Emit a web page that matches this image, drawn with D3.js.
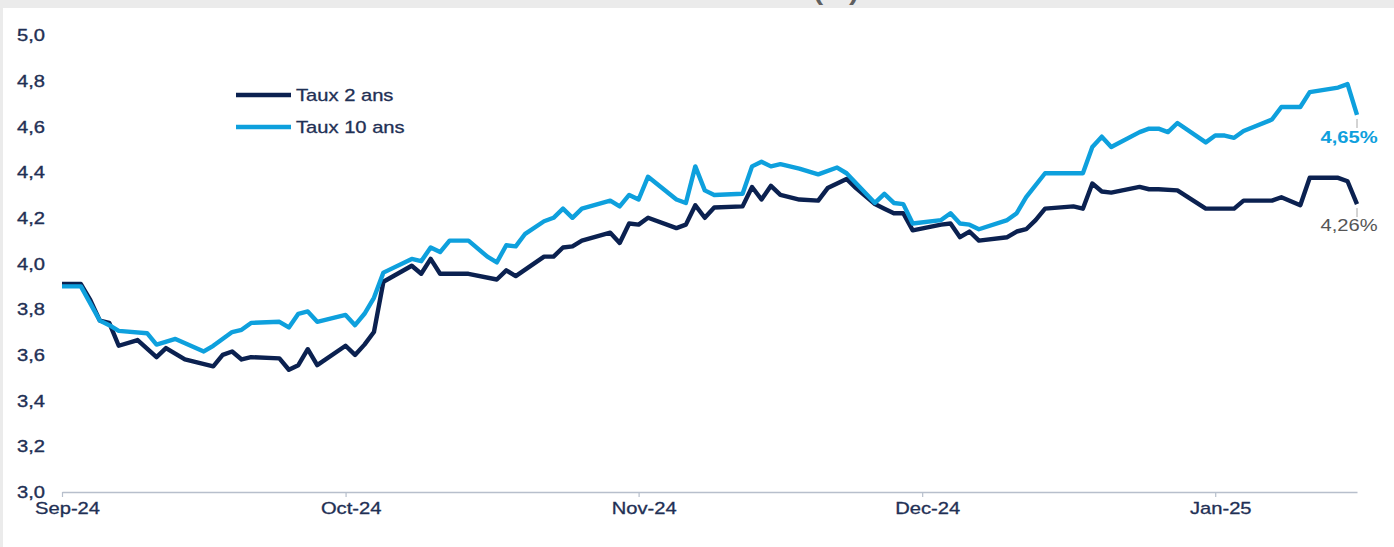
<!DOCTYPE html>
<html>
<head>
<meta charset="utf-8">
<script src="https://cdn.jsdelivr.net/npm/d3@7"></script>
<style>
  html, body { margin: 0; padding: 0; background: #ffffff; }
  svg { display: block; }
  text { font-family: "Liberation Sans", Arial, sans-serif; }
</style>
</head>
<body>
<svg id="chart" width="1394" height="547"></svg>
<script>
// ---------- DATA ----------
const seriesNames = ["Taux 2 ans", "Taux 10 ans"];

const dates2 = [
  "2024-09-01","2024-09-03","2024-09-04","2024-09-05","2024-09-06","2024-09-07","2024-09-09","2024-09-11","2024-09-12","2024-09-14",
  "2024-09-17","2024-09-18","2024-09-19","2024-09-20","2024-09-21","2024-09-24","2024-09-25","2024-09-26","2024-09-27","2024-09-28",
  "2024-10-01","2024-10-02","2024-10-03","2024-10-04","2024-10-05","2024-10-08","2024-10-09","2024-10-10","2024-10-11","2024-10-14",
  "2024-10-17","2024-10-18","2024-10-19","2024-10-22","2024-10-23","2024-10-24","2024-10-25","2024-10-26","2024-10-29","2024-10-30","2024-10-31",
  "2024-11-01","2024-11-02","2024-11-05","2024-11-06","2024-11-07","2024-11-08","2024-11-09","2024-11-12","2024-11-13","2024-11-14",
  "2024-11-15","2024-11-16","2024-11-18","2024-11-20","2024-11-21","2024-11-23","2024-11-24","2024-11-26","2024-11-27","2024-11-28","2024-11-29","2024-11-30",
  "2024-12-03","2024-12-04","2024-12-05","2024-12-06","2024-12-07","2024-12-10","2024-12-11","2024-12-12","2024-12-13","2024-12-14",
  "2024-12-17","2024-12-18","2024-12-19","2024-12-20","2024-12-21","2024-12-24","2024-12-25","2024-12-26","2024-12-28","2024-12-31",
  "2025-01-03","2025-01-04","2025-01-07","2025-01-08","2025-01-10","2025-01-11","2025-01-14","2025-01-15","2025-01-16"
];
const values2 = [
  3.91,3.91,3.84,3.75,3.74,3.64,3.665,3.59,3.63,3.58,
  3.55,3.60,3.615,3.58,3.59,3.585,3.535,3.555,3.625,3.555,
  3.64,3.60,3.645,3.70,3.92,3.99,3.955,4.02,3.955,3.955,
  3.93,3.97,3.945,4.03,4.03,4.07,4.075,4.10,4.135,4.09,4.175,
  4.17,4.20,4.155,4.17,4.255,4.20,4.245,4.25,4.335,4.28,
  4.34,4.30,4.28,4.275,4.33,4.37,4.33,4.26,4.24,4.22,4.22,4.145,
  4.17,4.175,4.115,4.14,4.10,4.115,4.14,4.15,4.19,4.24,
  4.25,4.24,4.35,4.315,4.31,4.335,4.325,4.325,4.32,4.24,
  4.24,4.275,4.275,4.29,4.255,4.375,4.375,4.36,4.26
];

const dates10 = [
  "2024-09-01","2024-09-03","2024-09-05","2024-09-06","2024-09-07","2024-09-10","2024-09-11","2024-09-13","2024-09-16","2024-09-17",
  "2024-09-19","2024-09-20","2024-09-21","2024-09-24","2024-09-25","2024-09-26","2024-09-27","2024-09-28",
  "2024-10-01","2024-10-02","2024-10-03","2024-10-04","2024-10-05","2024-10-08","2024-10-09","2024-10-10","2024-10-11","2024-10-12",
  "2024-10-14","2024-10-16","2024-10-17","2024-10-18","2024-10-19","2024-10-20","2024-10-22","2024-10-23","2024-10-24","2024-10-25",
  "2024-10-26","2024-10-29","2024-10-30","2024-10-31",
  "2024-11-01","2024-11-02","2024-11-05","2024-11-06","2024-11-07","2024-11-08","2024-11-09","2024-11-12","2024-11-13","2024-11-14",
  "2024-11-15","2024-11-16","2024-11-18","2024-11-20","2024-11-22","2024-11-23","2024-11-26","2024-11-27","2024-11-28","2024-11-29","2024-11-30",
  "2024-12-03","2024-12-04","2024-12-05","2024-12-06","2024-12-07","2024-12-10","2024-12-11","2024-12-12","2024-12-14","2024-12-18",
  "2024-12-19","2024-12-20","2024-12-21","2024-12-24","2024-12-25","2024-12-26","2024-12-27","2024-12-28","2024-12-31",
  "2025-01-01","2025-01-02","2025-01-03","2025-01-04","2025-01-07","2025-01-08","2025-01-10","2025-01-11","2025-01-14","2025-01-15","2025-01-16"
];
const values10 = [
  3.90,3.90,3.75,3.73,3.705,3.695,3.645,3.67,3.615,3.64,
  3.70,3.71,3.74,3.745,3.72,3.78,3.79,3.745,
  3.775,3.73,3.78,3.85,3.96,4.02,4.01,4.07,4.05,4.10,
  4.10,4.03,4.005,4.08,4.075,4.13,4.185,4.20,4.24,4.20,
  4.24,4.275,4.25,4.30,
  4.28,4.38,4.28,4.265,4.425,4.32,4.30,4.305,4.425,4.445,
  4.425,4.435,4.415,4.39,4.42,4.395,4.265,4.305,4.265,4.26,4.175,
  4.19,4.22,4.175,4.17,4.15,4.19,4.22,4.29,4.395,4.395,
  4.51,4.555,4.51,4.575,4.59,4.59,4.575,4.615,4.53,
  4.56,4.56,4.55,4.58,4.63,4.685,4.685,4.75,4.77,4.785,4.65
];

const yTickValues = [3.0, 3.2, 3.4, 3.6, 3.8, 4.0, 4.2, 4.4, 4.6, 4.8, 5.0];
const xTickDates = ["2024-09-01","2024-10-01","2024-11-01","2024-12-01","2025-01-01"];
const xTickLabels = ["Sep-24","Oct-24","Nov-24","Dec-24","Jan-25"];
const xDomain = ["2024-09-01","2025-01-16"];
const endLabels = ["4,26%", "4,65%"];

// ---------- CHART ----------
const parse = d3.utcParse("%Y-%m-%d");
const svg = d3.select("#chart");

const colDark = "#0b2150";
const colLight = "#0ea0dd";
const textCol = "#1f3055";
const SX = 1.26;   // horizontal stretch of the original picture's text

// frame background
svg.append("rect").attr("x",0).attr("y",0).attr("width",1394).attr("height",8).attr("fill","#ebebeb");
svg.append("rect").attr("x",0).attr("y",0).attr("width",3).attr("height",547).attr("fill","#ebebeb");
svg.append("text").attr("transform",`translate(836,-0.5) scale(${SX},1)`).attr("text-anchor","middle")
  .attr("font-size",23).attr("font-weight","bold").attr("fill","#5f5f5f").text("(%)");

const x = d3.scaleUtc().domain(xDomain.map(parse)).range([62, 1357]);
const y = d3.scaleLinear().domain([3, 5]).range([492, 35]);

// Y axis labels (no line)
const yAxis = d3.axisLeft(y).tickValues(yTickValues).tickSize(0).tickPadding(0)
  .tickFormat(d => d3.format(".1f")(d).replace(".", ","));
const gy = svg.append("g").attr("transform","translate(45,0)").call(yAxis);
gy.select(".domain").remove();
gy.selectAll("text").attr("font-size",16).attr("fill",textCol)
  .attr("font-family",'"Liberation Sans", Arial, sans-serif').attr("dy","0.35em")
  .attr("stroke",textCol).attr("stroke-width",0.35)
  .attr("transform",`scale(${SX},1)`);

// X axis
const xTicks = xTickDates.map(parse);
const xAxis = d3.axisBottom(x).tickValues(xTicks).tickSize(5).tickSizeOuter(0)
  .tickFormat((d,i) => xTickLabels[i]);
const gx = svg.append("g").attr("transform","translate(0,492)").call(xAxis);
gx.select(".domain").attr("stroke","#b7bfcc").attr("stroke-width",1.6);
gx.selectAll(".tick line").attr("stroke","#b7bfcc").attr("stroke-width",1.2);
gx.selectAll(".tick text").attr("font-size",16).attr("fill",textCol)
  .attr("font-family",'"Liberation Sans", Arial, sans-serif').attr("dx",4).attr("dy","0.9em")
  .attr("stroke",textCol).attr("stroke-width",0.3)
  .attr("transform",`scale(${SX},1)`);

// Lines
const line = d3.line().x(d => x(d.date)).y(d => y(d.value)).curve(d3.curveLinear);
const s2 = dates2.map((d,i) => ({date: parse(d), value: values2[i]}));
const s10 = dates10.map((d,i) => ({date: parse(d), value: values10[i]}));

svg.append("path").datum(s2).attr("d", line).attr("fill","none")
  .attr("stroke", colDark).attr("stroke-width",4.4).attr("stroke-linejoin","round").attr("stroke-linecap","butt");
svg.append("path").datum(s10).attr("d", line).attr("fill","none")
  .attr("stroke", colLight).attr("stroke-width",4.4).attr("stroke-linejoin","round").attr("stroke-linecap","butt");

// End labels with leader lines
const last2 = s2[s2.length-1], last10 = s10[s10.length-1];
svg.append("line").attr("x1", x(last10.date)).attr("y1", y(last10.value)+4)
  .attr("x2", x(last10.date)).attr("y2", y(last10.value)+13).attr("stroke","#a8a8a8").attr("stroke-width",1);
svg.append("text").attr("transform",`translate(${x(last10.date)-8},${y(last10.value)+28}) scale(${SX},1)`)
  .attr("text-anchor","middle")
  .attr("font-size",16).attr("font-weight","bold").attr("fill",colLight).text(endLabels[1]);
svg.append("line").attr("x1", x(last2.date)).attr("y1", y(last2.value)+4)
  .attr("x2", x(last2.date)).attr("y2", y(last2.value)+13).attr("stroke","#a8a8a8").attr("stroke-width",1);
svg.append("text").attr("transform",`translate(${x(last2.date)-8},${y(last2.value)+27}) scale(${SX},1)`)
  .attr("text-anchor","middle")
  .attr("font-size",16).attr("fill","#555555").text(endLabels[0]);

// Legend
const legend = svg.append("g");
[[colDark, 95], [colLight, 127]].forEach(([c, ly], i) => {
  legend.append("line").attr("x1",236).attr("x2",291).attr("y1",ly).attr("y2",ly)
    .attr("stroke",c).attr("stroke-width",4.4);
  legend.append("text").attr("transform",`translate(296,${ly}) scale(${SX},1)`).attr("dy","0.35em")
    .attr("font-size",16).attr("fill",textCol)
    .attr("stroke",textCol).attr("stroke-width",0.3).text(seriesNames[i]);
});
</script>
</body>
</html>
